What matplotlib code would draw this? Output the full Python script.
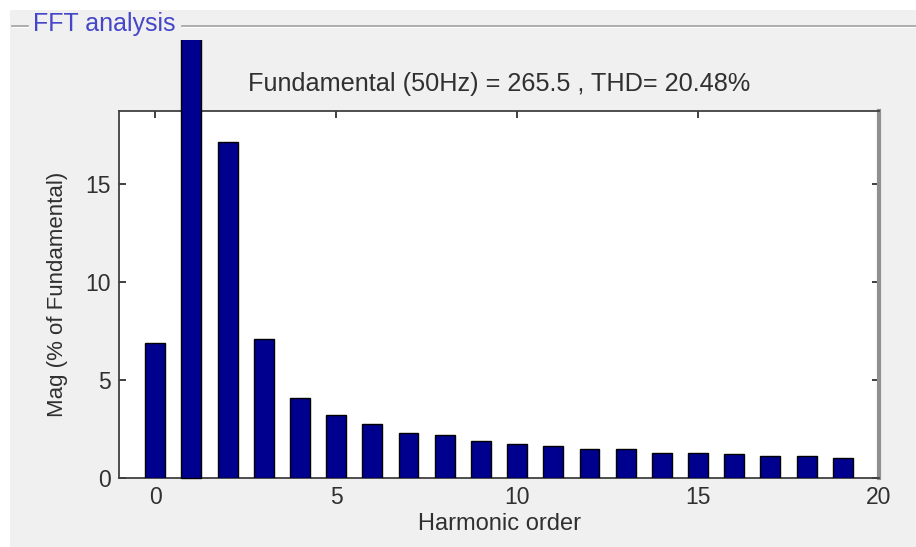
import matplotlib
matplotlib.use("Agg")
import matplotlib.pyplot as plt
from matplotlib.patches import Rectangle
from matplotlib.lines import Line2D
from matplotlib.transforms import Bbox

plt.rcParams['font.family'] = ['Liberation Sans', 'DejaVu Sans']

# Data (harmonic order vs magnitude in % of fundamental)
harmonics = list(range(20))
magnitudes = [6.9, 100.0, 17.15, 7.1, 4.07, 3.2, 2.74, 2.28, 2.18, 1.9,
              1.75, 1.63, 1.46, 1.46, 1.29, 1.29, 1.21, 1.12, 1.12, 1.0]
x_ticks = [0, 5, 10, 15, 20]
y_ticks = [0, 5, 10, 15]
title_text = "Fundamental (50Hz) = 265.5 , THD= 20.48%"
panel_title = "FFT analysis"

W, H = 916, 547
fig = plt.figure(figsize=(W / 100, H / 100), dpi=100)
fig.patch.set_facecolor('white')

# grey panel background
fig.patches.append(Rectangle((10 / W, 0), 1 - 10 / W, 1 - 10 / H,
                             transform=fig.transFigure, facecolor='#f0f0f0',
                             edgecolor='none', zorder=-10))
# etched panel top border
yb = 1 - 26 / H
for seg in [(12, 28), (182, W)]:
    fig.lines.append(Line2D([seg[0] / W, seg[1] / W], [yb, yb], transform=fig.transFigure,
                            color='#a0a0a0', lw=1.2))
    fig.lines.append(Line2D([seg[0] / W, seg[1] / W], [yb - 1.2 / H, yb - 1.2 / H],
                            transform=fig.transFigure, color='#ffffff', lw=0.8))
fig.text(104 / W, 1 - 24 / H, panel_title, color='#4646c8', fontsize=18,
         ha='center', va='center')

left, right, top, bottom = 119, 879, 110.7, 478
ax = fig.add_axes([left / W, 1 - bottom / H, (right - left) / W, (bottom - top) / H])
ax.set_facecolor('white')
ax.set_xlim(-1, 20)
ax.set_ylim(0, 18.75)

bars = ax.bar(harmonics, magnitudes, width=0.55, color='#00008f', edgecolor='#000000',
              linewidth=1.0, zorder=3)
# fundamental bar drawn beyond the axes, cut off by the panel
fund = bars[1]
fund.set_clip_path(None)
fund.set_clip_box(Bbox([[0, 0], [W, H - 40]]))
fund.set_clip_on(True)
fund.set_zorder(5)

ax.set_xticks(x_ticks)
ax.set_yticks(y_ticks)
ax.tick_params(direction='in', length=5, width=1.2, top=True, right=True,
               labelsize=16.5, colors='#202020', labelcolor='#303030', pad=6)
for s in ['left', 'bottom', 'top']:
    ax.spines[s].set_color('#404040')
    ax.spines[s].set_linewidth(1.3)
ax.spines['right'].set_color('#909090')
ax.spines['right'].set_linewidth(3)

ax.set_xlabel('Harmonic order', fontsize=17, color='#303030', labelpad=3)
ax.set_ylabel('Mag (% of Fundamental)', fontsize=16, color='#303030', labelpad=12)
ax.set_title(title_text, fontsize=18.2, color='#303030', pad=14)

fig.savefig('out.png', dpi=100, facecolor=fig.get_facecolor())
